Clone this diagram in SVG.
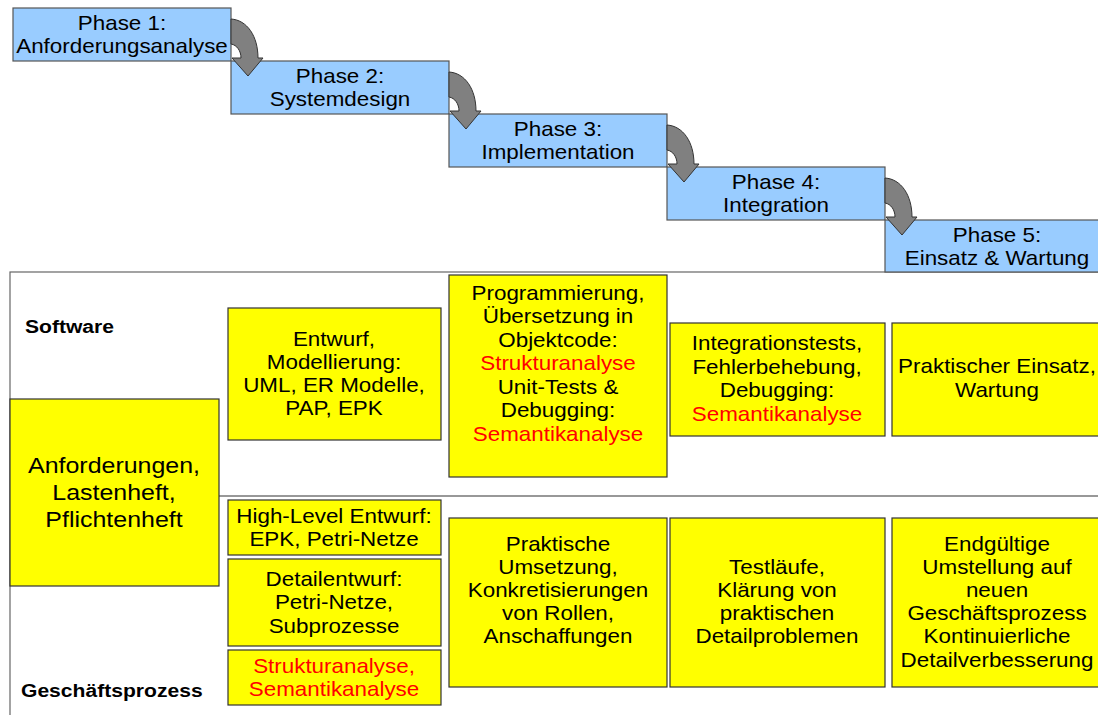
<svg xmlns="http://www.w3.org/2000/svg" width="1098" height="715" viewBox="0 0 1098 715">
<style>
.phase{fill:#99CCFF;stroke:#555555;stroke-width:1.2}
.box{fill:#FFFF00;stroke:#333333;stroke-width:1.2}
.frame{fill:none;stroke:#666666;stroke-width:1.2}
.t{font-family:"Liberation Sans",Arial,sans-serif;font-size:20px;fill:#000000;text-anchor:middle}
.big{font-size:22.5px}
.b{font-family:"Liberation Sans",Arial,sans-serif;font-size:18.5px;font-weight:bold;fill:#000000}
.r{fill:#FF0000}
.arr{fill:#808080;stroke:#333333;stroke-width:1}
</style>
<defs>
<path id="curve" d="M0,11 C16,12 27,28 27,50 L32,50 L17,68 L1,50 L10,50 C10,43 6,37 0,36 Z"/>
</defs>
<rect class="frame" x="10" y="272" width="1100" height="460"/>
<line x1="219" y1="496" x2="1098" y2="496" stroke="#333333" stroke-width="1.2"/>
<text class="b" transform="translate(25 333) scale(1.14 1)" x="0" y="0">Software</text>
<text class="b" transform="translate(21 697) scale(1.14 1)" x="0" y="0">Geschäftsprozess</text>
<g id="phase1"><rect class="phase" x="13" y="8" width="218" height="53"/><text class="t" transform="translate(122 0) scale(1.12 1)"><tspan x="0" y="30">Phase 1:</tspan><tspan x="0" y="53">Anforderungsanalyse</tspan></text></g>
<g id="phase2"><rect class="phase" x="231" y="61" width="218" height="53"/><text class="t" transform="translate(340 0) scale(1.12 1)"><tspan x="0" y="83">Phase 2:</tspan><tspan x="0" y="106">Systemdesign</tspan></text></g>
<g id="phase3"><rect class="phase" x="449" y="114" width="218" height="53"/><text class="t" transform="translate(558 0) scale(1.12 1)"><tspan x="0" y="136">Phase 3:</tspan><tspan x="0" y="159">Implementation</tspan></text></g>
<g id="phase4"><rect class="phase" x="667" y="167" width="218" height="53"/><text class="t" transform="translate(776 0) scale(1.12 1)"><tspan x="0" y="189">Phase 4:</tspan><tspan x="0" y="212">Integration</tspan></text></g>
<g id="phase5"><rect class="phase" x="885" y="220" width="220" height="52"/><text class="t" transform="translate(997 0) scale(1.12 1)"><tspan x="0" y="242">Phase 5:</tspan><tspan x="0" y="265">Einsatz &amp; Wartung</tspan></text></g>
<g id="connectors">
<use href="#curve" class="arr" transform="translate(231 8)"/>
<use href="#curve" class="arr" transform="translate(449 61)"/>
<use href="#curve" class="arr" transform="translate(667 114)"/>
<use href="#curve" class="arr" transform="translate(885 167)"/>
</g>
<g id="anforderungen"><rect class="box" x="10" y="399" width="209" height="187"/><text class="t big" transform="translate(114 0) scale(1.11 1)"><tspan x="0" y="473">Anforderungen,</tspan><tspan x="0" y="500">Lastenheft,</tspan><tspan x="0" y="527">Pflichtenheft</tspan></text></g>
<g id="entwurf"><rect class="box" x="228" y="308" width="213" height="132"/><text class="t" transform="translate(334 0) scale(1.12 1)"><tspan x="0" y="346">Entwurf,</tspan><tspan x="0" y="369">Modellierung:</tspan><tspan x="0" y="392">UML, ER Modelle,</tspan><tspan x="0" y="415">PAP, EPK</tspan></text></g>
<g id="programmierung"><rect class="box" x="449" y="275" width="218" height="202"/><text class="t" transform="translate(558 0) scale(1.12 1)"><tspan x="0" y="300">Programmierung,</tspan><tspan x="0" y="323">Übersetzung in</tspan><tspan x="0" y="347">Objektcode:</tspan><tspan x="0" y="370" class="r">Strukturanalyse</tspan><tspan x="0" y="394">Unit-Tests &amp;</tspan><tspan x="0" y="417">Debugging:</tspan><tspan x="0" y="441" class="r">Semantikanalyse</tspan></text></g>
<g id="integrationstests"><rect class="box" x="670" y="323" width="215" height="113"/><text class="t" transform="translate(777 0) scale(1.12 1)"><tspan x="0" y="350">Integrationstests,</tspan><tspan x="0" y="374">Fehlerbehebung,</tspan><tspan x="0" y="397">Debugging:</tspan><tspan x="0" y="421" class="r">Semantikanalyse</tspan></text></g>
<g id="einsatz"><rect class="box" x="892" y="323" width="215" height="113"/><text class="t" transform="translate(997 0) scale(1.12 1)"><tspan x="0" y="373">Praktischer Einsatz,</tspan><tspan x="0" y="397">Wartung</tspan></text></g>
<g id="highlevel"><rect class="box" x="228" y="500" width="213" height="55"/><text class="t" transform="translate(334 0) scale(1.12 1)"><tspan x="0" y="523">High-Level Entwurf:</tspan><tspan x="0" y="546">EPK, Petri-Netze</tspan></text></g>
<g id="detailentwurf"><rect class="box" x="228" y="559" width="213" height="87"/><text class="t" transform="translate(334 0) scale(1.12 1)"><tspan x="0" y="586">Detailentwurf:</tspan><tspan x="0" y="609">Petri-Netze,</tspan><tspan x="0" y="633">Subprozesse</tspan></text></g>
<g id="analyse"><rect class="box" x="228" y="650" width="213" height="55"/><text class="t r" transform="translate(334 0) scale(1.12 1)"><tspan x="0" y="673">Strukturanalyse,</tspan><tspan x="0" y="696">Semantikanalyse</tspan></text></g>
<g id="praktische"><rect class="box" x="449" y="518" width="218" height="169"/><text class="t" transform="translate(558 0) scale(1.12 1)"><tspan x="0" y="551">Praktische</tspan><tspan x="0" y="574">Umsetzung,</tspan><tspan x="0" y="597">Konkretisierungen</tspan><tspan x="0" y="620">von Rollen,</tspan><tspan x="0" y="643">Anschaffungen</tspan></text></g>
<g id="testlaeufe"><rect class="box" x="670" y="518" width="215" height="169"/><text class="t" transform="translate(777 0) scale(1.12 1)"><tspan x="0" y="574">Testläufe,</tspan><tspan x="0" y="597">Klärung von</tspan><tspan x="0" y="620">praktischen</tspan><tspan x="0" y="643">Detailproblemen</tspan></text></g>
<g id="endgueltig"><rect class="box" x="892" y="518" width="215" height="169"/><text class="t" transform="translate(997 0) scale(1.12 1)"><tspan x="0" y="551">Endgültige</tspan><tspan x="0" y="574">Umstellung auf</tspan><tspan x="0" y="597">neuen</tspan><tspan x="0" y="620">Geschäftsprozess</tspan><tspan x="0" y="643">Kontinuierliche</tspan><tspan x="0" y="667">Detailverbesserung</tspan></text></g>
</svg>
